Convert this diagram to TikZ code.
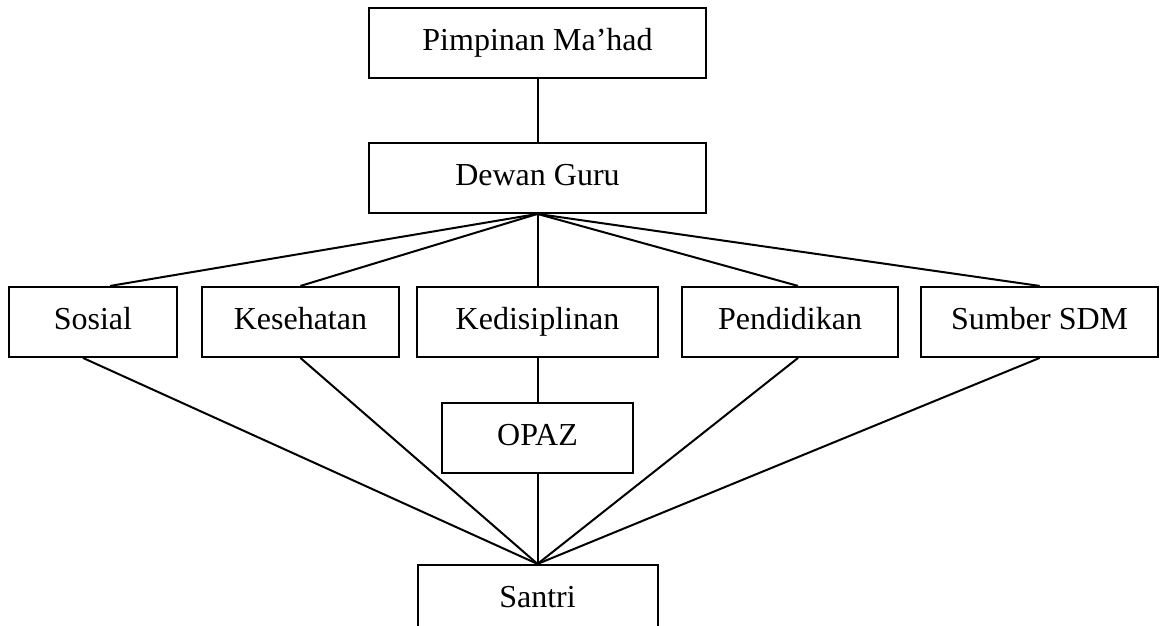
\documentclass[tikz,border=0pt]{standalone}
\usepackage{fontspec}
\setmainfont{Liberation Serif}
\usetikzlibrary{positioning}

\begin{document}
\begin{tikzpicture}[x=0.375pt,y=-0.375pt,
  every node/.style={font=\fontsize{12}{14}\selectfont},
  box/.style={draw,line width=0.75pt,minimum height=26.25pt,inner sep=0pt,
    text height=8.2pt,text depth=2.4pt},
  link/.style={line width=0.75pt}]
  \useasboundingbox (0,0) rectangle (1160,626);
  \node[box,minimum width=126.4pt] (Pimpinan) at (537.5,43) {Pimpinan Ma’had};
  \node[box,minimum width=126.4pt,below=23.6pt of Pimpinan] (Dewan) {Dewan Guru};
  \node[box,minimum width=90.4pt,below=27pt of Dewan] (Kedisiplinan) {Kedisiplinan};
  \node[box,minimum width=73.9pt,left=6pt of Kedisiplinan] (Kesehatan) {Kesehatan};
  \node[box,minimum width=63pt,left=8.6pt of Kesehatan] (Sosial) {Sosial};
  \node[box,minimum width=81pt,right=8.25pt of Kedisiplinan] (Pendidikan) {Pendidikan};
  \node[box,minimum width=88.9pt,right=7.9pt of Pendidikan] (Sumber) {Sumber SDM};
  \node[box,minimum width=71.6pt,below=16.5pt of Kedisiplinan] (OPAZ) {OPAZ};
  \node[box,minimum width=90pt,below=33.75pt of OPAZ] (Santri) {Santri};

  \draw[link] (Pimpinan) -- (Dewan);
  % Dewan Guru ke bidang
  \draw[link] (Dewan.south) -- ([xshift=6.4pt]Sosial.north);
  \draw[link] (Dewan.south) -- (Kesehatan.north);
  \draw[link] (Dewan.south) -- (Kedisiplinan.north);
  \draw[link] (Dewan.south) -- ([xshift=3pt]Pendidikan.north);
  \draw[link] (Dewan.south) -- (Sumber.north);
  % bidang ke santri
  \draw[link] ([xshift=-3.75pt]Sosial.south) -- (Santri.north);
  \draw[link] (Kesehatan.south) -- (Santri.north);
  \draw[link] (Kedisiplinan) -- (OPAZ);
  \draw[link] (OPAZ.south) -- (Santri.north);
  \draw[link] ([xshift=3pt]Pendidikan.south) -- (Santri.north);
  \draw[link] (Sumber.south) -- (Santri.north);
\end{tikzpicture}
\end{document}
